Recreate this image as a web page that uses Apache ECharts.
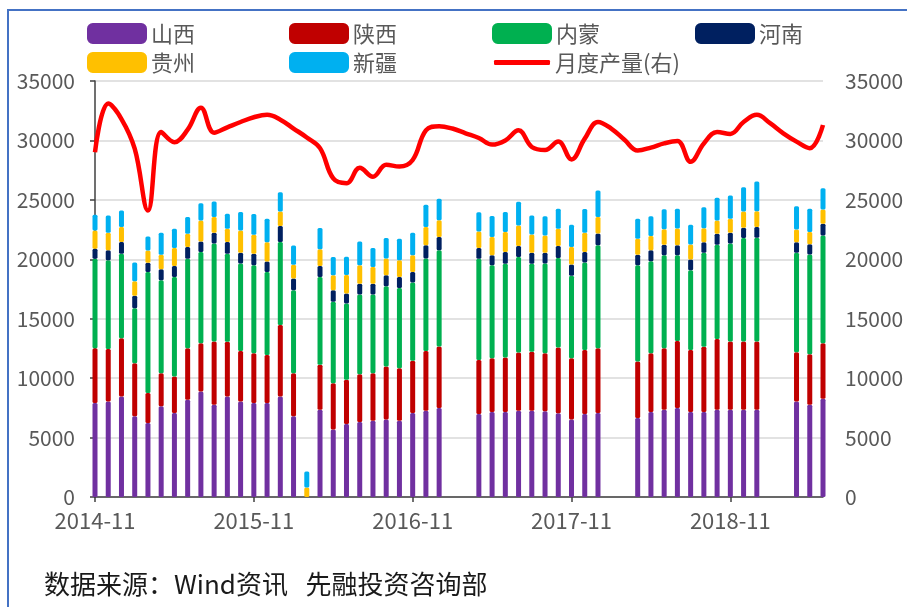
<!DOCTYPE html>
<html>
<head>
<meta charset="utf-8">
<title>主产区月度产量</title>
<script src="https://cdn.jsdelivr.net/npm/echarts@6/dist/echarts.min.js"></script>
<style>
    html, body { margin: 0; padding: 0; background: #fff; }
    #chart { width: 907px; height: 607px; }
</style>
</head>
<body>
<div id="chart"></div>
<script>
// 月份
var months = [
    '2014-11', '2014-12', '2015-01', '2015-02', '2015-03', '2015-04', '2015-05', '2015-06', '2015-07', '2015-08', '2015-09', '2015-10',
    '2015-11', '2015-12', '2016-01', '2016-02', '2016-03', '2016-04', '2016-05', '2016-06', '2016-07', '2016-08', '2016-09', '2016-10',
    '2016-11', '2016-12', '2017-01', '2017-02', '2017-03', '2017-04', '2017-05', '2017-06', '2017-07', '2017-08', '2017-09', '2017-10',
    '2017-11', '2017-12', '2018-01', '2018-02', '2018-03', '2018-04', '2018-05', '2018-06', '2018-07', '2018-08', '2018-09', '2018-10',
    '2018-11', '2018-12', '2019-01', '2019-02', '2019-03', '2019-04', '2019-05', '2019-06'
];

var shanxi = [7900, 8040, 8460, 6790, 6230, 7630, 7070, 8180, 8880, 7770, 8460, 8040,
    7900, 7900, 8460, 6790, '-', 7350, 5670, 6150, 6310, 6420, 6510, 6420,
    7070, 7260, 7490, '-', '-', 6980, 7150, 7150, 7260, 7260, 7210, 7040,
    6510, 6980, 7070, '-', '-', 6650, 7150, 7350, 7490, 7150, 7150, 7350,
    7350, 7350, 7350, '-', '-', 8040, 7770, 8270];

var shaanxi = [4610, 4410, 4890, 4470, 2510, 2790, 3070, 4330, 4050, 5310, 4610, 4250,
    4190, 4050, 6010, 3630, '-', 3770, 3910, 3720, 4020, 3990, 4470, 4410,
    4390, 5030, 5170, '-', '-', 4550, 4530, 4580, 4890, 4970, 4890, 5530,
    5170, 5390, 5450, '-', '-', 4750, 4940, 5170, 5640, 5220, 5500, 5950,
    5730, 5730, 5730, '-', '-', 4130, 4250, 4660];

var neimeng = [7540, 7460, 7120, 4610, 10190, 7820, 8380, 7540, 7680, 8240, 7400, 7350,
    7400, 6980, 6980, 6980, '-', 7400, 6840, 6420, 6700, 6620, 6760, 6760,
    6590, 7770, 8100, '-', '-', 8520, 7820, 7900, 8040, 7400, 7540, 7540,
    6930, 7350, 8660, '-', '-', 8100, 7740, 7820, 7210, 6700, 7900, 7930,
    8240, 8710, 8740, '-', '-', 8380, 8380, 9080];

var henan = [840, 840, 980, 1060, 780, 920, 920, 980, 890, 920, 980, 920,
    980, 890, 1340, 980, '-', 920, 980, 840, 920, 920, 920, 920,
    890, 1120, 1120, '-', '-', 890, 840, 980, 920, 920, 920, 1010,
    950, 890, 980, '-', '-', 890, 920, 890, 840, 920, 890, 920,
    920, 870, 890, '-', '-', 890, 870, 980];

var guizhou = [1540, 1480, 1260, 1230, 1030, 1230, 1510, 1120, 1760, 1310, 1120, 1870,
    1590, 1620, 1230, 1170, 800, 1400, 1260, 1540, 1540, 1400, 1400, 1400,
    1400, 1540, 1400, '-', '-', 1400, 1540, 1680, 1730, 1540, 1450, 1450,
    1480, 1620, 1400, '-', '-', 1340, 1200, 1290, 1400, 1260, 1170, 1120,
    1170, 1370, 1340, '-', '-', 1060, 1030, 1200];

var xinjiang = [1310, 1450, 1400, 1560, 1170, 1840, 1620, 1400, 1450, 1310, 1260, 1540,
    1760, 1960, 1620, 1620, 1350, 1790, 1540, 1540, 2010, 1590, 1730, 1820,
    1900, 1870, 1820, '-', '-', 1620, 1760, 1680, 2010, 1590, 1620, 1680,
    1870, 2010, 2230, '-', '-', 1680, 1680, 1680, 1680, 1650, 1760, 1900,
    1960, 2040, 2490, '-', '-', 1960, 1960, 1790];

// 月度产量(右轴)
var monthly = [29000, 33100, 31800, 29300, 24100, 30700, 29850, 30900, 32750, 30650, 31100, 31550,
    31950, 32150, 31750, 31000, 30250, 29350, 26800, 26400, 27700, 26950, 27950, 27800,
    28350, 30850, 31200, 31000, 30600, 30200, 29650, 30000, 30850, 29450, 29200, 29900,
    28400, 30150, 31550, 31000, 30050, 29150, 29400, 29750, 29950, 28200, 29750, 30700,
    30550, 31550, 32150, 31450, 30600, 29900, 29350, 31300];

(function () {

    var font = 'Noto Sans CJK SC';
    var gray = '#595959';

    var bars = [
        { name: '山西', color: '#7030A0', data: shanxi },
        { name: '陕西', color: '#C00000', data: shaanxi },
        { name: '内蒙', color: '#00B050', data: neimeng },
        { name: '河南', color: '#002060', data: henan },
        { name: '贵州', color: '#FFC000', data: guizhou },
        { name: '新疆', color: '#00B0F0', data: xinjiang }
    ];

    // 图例位置，两行四列
    var legendPos = {
        '山西': [87, 22.5], '陕西': [289, 22.5], '内蒙': [492, 22.5], '河南': [695, 22.5],
        '贵州': [87, 51.5], '新疆': [289, 51.5], '月度产量(右)': [494, 51.5]
    };

    var legends = Object.keys(legendPos).map(function (name) {
        var isLine = name === '月度产量(右)';
        return {
            data: [{ name: name, icon: 'roundRect' }],
            left: legendPos[name][0],
            top: legendPos[name][1],
            padding: 0,
            itemWidth: isLine ? 56 : 58,
            itemHeight: isLine ? 5 : 19,
            selectedMode: false,
            textStyle: { color: gray, fontSize: 22, lineHeight: 22, fontFamily: font }
        };
    });

    var series = bars.map(function (b) {
        return {
            name: b.name,
            type: 'bar',
            stack: 'total',
            barWidth: 5,
            clip: false,
            emphasis: { disabled: true },
            itemStyle: { color: b.color, borderColor: b.color, borderWidth: 3, borderJoin: 'round' },
            data: b.data
        };
    });

    series.push({
        name: '月度产量(右)',
        type: 'line',
        yAxisIndex: 1,
        smooth: 0.4,
        symbol: 'none',
        z: 5,
        itemStyle: { color: '#FF0000' },
        lineStyle: { color: '#FF0000', width: 4.5 },
        data: monthly
    });

    var valueLabel = {
        color: gray, fontSize: 21, fontFamily: font,
        formatter: function (v) { return String(v); }
    };

    var option = {
        animation: false,
        backgroundColor: '#fff',
        legend: legends,
        grid: { left: 95, right: 84, top: 81, bottom: 110, containLabel: false, outerBoundsMode: 'none' },
        xAxis: {
            type: 'category',
            data: months,
            boundaryGap: false,
            axisLine: { lineStyle: { color: '#404040', width: 1.5 } },
            axisTick: { interval: 11, length: 5, lineStyle: { color: '#404040', width: 1.5 } },
            axisLabel: { interval: 11, margin: 13, color: gray, fontSize: 22, fontFamily: font },
            splitLine: { show: false }
        },
        yAxis: [
            {
                type: 'value',
                min: 0,
                max: 35000,
                interval: 5000,
                axisLine: { show: true, lineStyle: { color: '#404040', width: 1.5 } },
                axisTick: { show: true, length: 5, lineStyle: { color: '#404040', width: 1.5 } },
                axisLabel: Object.assign({ margin: 20 }, valueLabel),
                splitLine: { lineStyle: { color: '#D9D9D9', width: 1.5 } }
            },
            {
                type: 'value',
                position: 'right',
                min: 0,
                max: 35000,
                interval: 5000,
                axisLine: { show: false },
                axisTick: { show: false },
                axisLabel: Object.assign({ margin: 22 }, valueLabel),
                splitLine: { show: false }
            }
        ],
        graphic: [
            {
                type: 'rect',
                silent: true,
                shape: { x: 8, y: 10, width: 1000, height: 1000 },
                style: { fill: 'none', stroke: '#4472C4', lineWidth: 2 }
            },
            {
                type: 'text',
                silent: true,
                left: 44,
                top: 571,
                style: { text: '数据来源：Wind资讯   先融投资咨询部', fill: '#1a1a1a', fontSize: 26, fontFamily: font }
            }
        ],
        series: series
    };

    var myChart = echarts.init(document.getElementById('chart'));
    myChart.setOption(option);

})();
</script>
</body>
</html>
